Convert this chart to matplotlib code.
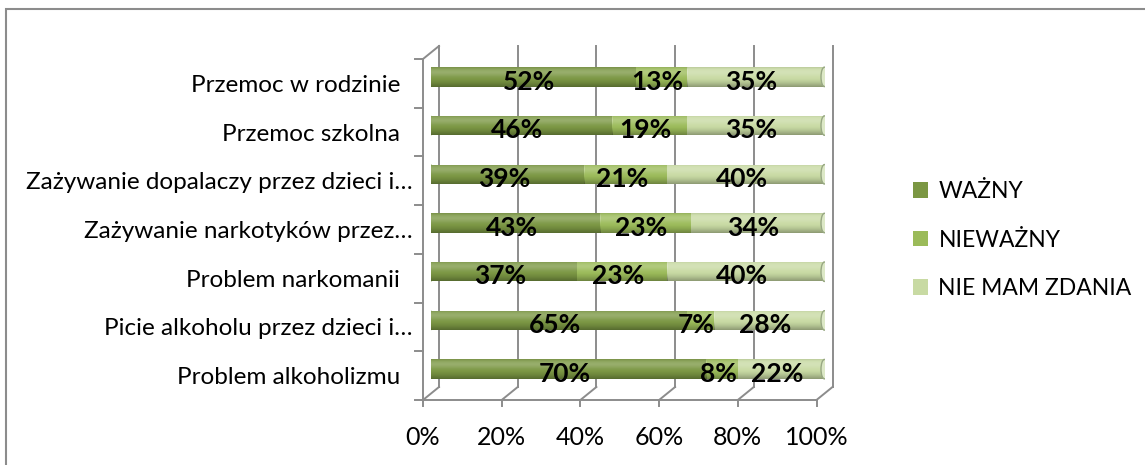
import numpy as np
import matplotlib
matplotlib.use('Agg')
import matplotlib.pyplot as plt
from matplotlib.patches import Ellipse, Rectangle
from matplotlib.transforms import ScaledTranslation

# data, top row first
categories = ['Przemoc w rodzinie  ', 'Przemoc szkolna  ',
              'Zażywanie dopalaczy przez dzieci i…', 'Zażywanie narkotyków przez…',
              'Problem narkomanii  ', 'Picie alkoholu przez dzieci i…',
              'Problem alkoholizmu  ']
wazny = [52, 46, 39, 43, 37, 65, 70]
niewazny = [13, 19, 21, 23, 23, 7, 8]
brak_zdania = [35, 35, 40, 34, 40, 28, 22]
series_names = ['WAŻNY', 'NIEWAŻNY', 'NIE MAM ZDANIA']
xticks = [0, 20, 40, 60, 80, 100]
xtick_labels = ['0%', '20%', '40%', '60%', '80%', '100%']

colors = ['#7b9743', '#9bbb59', '#c8daa3']
grid_color = '#8c8c8c'

plt.rcParams['font.family'] = ['Lato', 'DejaVu Sans']

W, H = 1145, 465
fig = plt.figure(figsize=(W / 100, H / 100), dpi=100)
# axes = middle depth plane of the 3d box
ax_l, ax_t, ax_w, ax_h = 431, 52.5, 393.5, 341
ax = fig.add_axes([ax_l / W, 1 - (ax_t + ax_h) / H, ax_w / W, ax_h / H])

n = len(categories)
ypos = np.arange(n)[::-1]
ax.set_xlim(0, 100)
ax.set_ylim(-0.5, n - 0.5)
for s in ax.spines.values():
    s.set_visible(False)

# depth offsets (half of the box depth) in data units
px_x = ax_w / 100
px_y = ax_h / n
ddx = 8 / px_x
ddy = 6.5 / px_y

line_kw = dict(color=grid_color, lw=1.4, clip_on=False, zorder=1)
y_bot, y_top = -0.5, n - 0.5
# back wall gridlines and floor diagonals
for x in xticks:
    ax.plot([x + ddx, x + ddx], [y_bot + ddy, y_top + ddy], **line_kw)
    ax.plot([x - ddx, x + ddx], [y_bot - ddy, y_bot + ddy], **line_kw)
    # small tick under the front floor edge
    ax.plot([x - ddx, x - ddx], [y_bot - ddy, y_bot - ddy - 6 / px_y], **line_kw)
# front floor edge
ax.plot([-ddx, 100 - ddx], [y_bot - ddy, y_bot - ddy], **line_kw)
# left wall
ax.plot([-ddx, -ddx], [y_bot - ddy, y_top - ddy], **line_kw)
ax.plot([-ddx, ddx], [y_top - ddy, y_top + ddy], **line_kw)
for k in range(n + 1):
    yk = k - 0.5 - ddy
    ax.plot([-ddx - 8 / px_x, -ddx], [yk, yk], **line_kw)

# cylinder shading overlay
t = np.linspace(0, 1, 80)
aw = 0.22 * np.exp(-((t - 0.25) / 0.22) ** 2)
ab = 0.30 * np.clip((t - 0.55) / 0.45, 0, 1) ** 1.5 + 0.08 * np.clip((0.1 - t) / 0.1, 0, 1)
shade = np.zeros((len(t), 1, 4))
g = aw / np.maximum(aw + ab, 1e-6)
shade[:, 0, 0] = g
shade[:, 0, 1] = g
shade[:, 0, 2] = g
shade[:, 0, 3] = np.clip(aw + ab, 0, 1)


def add_shade(patch, x0, x1, yc, h):
    im = ax.imshow(shade, extent=(x0, x1, yc - h / 2, yc + h / 2), origin='upper',
                   aspect='auto', interpolation='bilinear', zorder=patch.get_zorder() + 0.05)
    im.set_clip_path(patch)


bar_h = 0.4
cap_w = 7 / px_x
series = [wazny, niewazny, brak_zdania]
lefts = np.zeros(n)

# rounded left ends
for y in ypos:
    e = Ellipse((0, y), cap_w, bar_h, facecolor=colors[0], edgecolor='none', zorder=2.5)
    ax.add_patch(e)
    add_shade(e, -cap_w, cap_w, y, bar_h)

handles = []
for vals, c, name in zip(series, colors, series_names):
    bars = ax.barh(ypos, vals, left=lefts, height=bar_h, color=c, label=name, zorder=3)
    handles.append(bars)
    for b in bars:
        add_shade(b, b.get_x(), b.get_x() + b.get_width(), b.get_y() + bar_h / 2, bar_h)
    lefts = lefts + np.array(vals)

# right caps of the cylinders
for y, tot in zip(ypos, lefts):
    ax.add_patch(Ellipse((tot, y), cap_w, bar_h, facecolor='#dce8c6',
                         edgecolor='#98a883', lw=1.0, zorder=4))

# value labels
lefts = np.zeros(n)
for vals in series:
    for y, l, v in zip(ypos, lefts, vals):
        ax.text(l + v / 2 - ddx / 2, y - ddy / 2 - 0.03, f'{v}%', ha='center', va='center',
                fontsize=19, fontweight='bold', color='black', zorder=6)
    lefts = lefts + np.array(vals)

ax.set_ylim(-0.5, n - 0.5)
ax.set_xlim(0, 100)

# tick labels sit on the front plane
ax.set_yticks(ypos)
ax.set_yticklabels(categories, fontsize=17.5)
ax.set_xticks(xticks)
ax.set_xticklabels(xtick_labels, fontsize=18)
ax.tick_params(length=0)
ax.tick_params(axis='y', pad=7.5)
ax.tick_params(axis='x', pad=19)
front = ScaledTranslation(-8 / 100, -6.5 / 100, fig.dpi_scale_trans)
for lab in ax.get_yticklabels() + ax.get_xticklabels():
    lab.set_transform(lab.get_transform() + front)

fig.legend(handles=handles, labels=series_names, loc='center left',
           bbox_to_anchor=(913 / W, 1 - 240 / H), frameon=False, fontsize=16.5,
           handlelength=0.66, handleheight=0.66, handletextpad=0.45,
           labelspacing=1.2, borderpad=0, borderaxespad=0)

# chart border (only the left and top edges are inside the crop)
fig.add_artist(Rectangle((6 / W, -0.1), 1.2, 1.1 - 9 / H, transform=fig.transFigure,
                         fill=False, edgecolor=grid_color, lw=1.5, clip_on=False))

fig.savefig('out.png', dpi=100)
